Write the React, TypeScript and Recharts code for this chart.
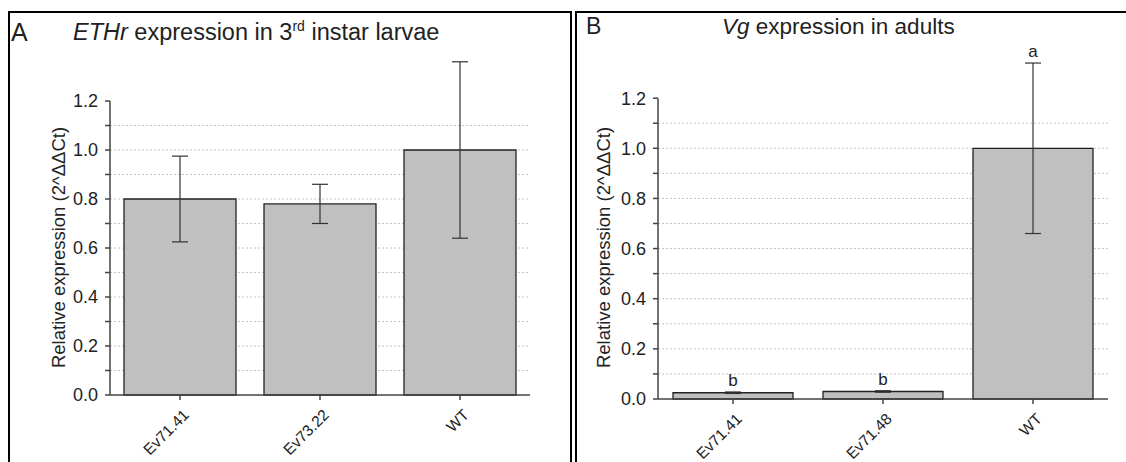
import React from "react";
import {
  ComposedChart,
  Bar,
  Line,
  XAxis,
  YAxis,
  CartesianGrid,
  ErrorBar,
  ReferenceLine,
  LabelList,
} from "recharts";

const catsA = ["Ev71.41", "Ev73.22", "WT"];
const meanA = [0.8, 0.78, 1.0];
const errA = [0.175, 0.08, 0.36];

const catsB = ["Ev71.41", "Ev71.48", "WT"];
const meanB = [0.025, 0.03, 1.0];
const errB = [0.003, 0.003, 0.34];
const lettersB = ["b", "b", "a"];

const yTicks = [0, 0.1, 0.2, 0.3, 0.4, 0.5, 0.6, 0.7, 0.8, 0.9, 1.0, 1.1, 1.2];
const gridValues = yTicks.slice(1, -1);

const FONT = "'Liberation Sans', Arial, sans-serif";
const TEXT = "#222";
const AXIS = "#444";

const dataA = catsA.map((name, i) => ({ idx: i, name, mean: meanA[i], err: errA[i] }));
const dataB = catsB.map((name, i) => ({
  idx: i,
  name,
  mean: meanB[i],
  err: errB[i],
  top: meanB[i] + errB[i],
  letter: lettersB[i],
}));

const RotTick = (props: any) => {
  const { x, y, payload, names } = props;
  const ax = x + 6;
  const ay = y + 10;
  return (
    <text
      x={ax}
      y={ay}
      transform={`rotate(-45, ${ax}, ${ay})`}
      textAnchor="end"
      dominantBaseline="central"
      fontSize={15.5}
      fontFamily={FONT}
      fill={TEXT}
    >
      {names[payload.value]}
    </text>
  );
};

const yFmt = (v: number) => (Math.round(v * 10) % 2 === 0 ? v.toFixed(1) : "");

const YLabel = (dx: number, dy: number) => (props: any) => {
  const { x, y, height } = props.viewBox;
  const cx = x + dx;
  const cy = y + height / 2 + dy;
  return (
    <text
      x={cx}
      y={cy}
      transform={`rotate(-90, ${cx}, ${cy})`}
      textAnchor="middle"
      dominantBaseline="central"
      fontSize={18.5}
      fontFamily={FONT}
      fill={TEXT}
    >
      Relative expression (2^ΔΔCt)
    </text>
  );
};

interface PanelProps {
  data: any[];
  names: string[];
  width: number;
  top: number;
  right: number;
  xHeight: number;
  yWidth: number;
  labelDx: number;
  labelDy: number;
  letters?: boolean;
}

const Panel: React.FC<PanelProps> = ({ data, names, width, top, right, xHeight, yWidth, labelDx, labelDy, letters }) => (
  <ComposedChart
    width={width}
    height={462}
    data={data}
    margin={{ top, right, bottom: 0, left: 0 }}
    barCategoryGap="10%"
  >
    <CartesianGrid
      vertical={false}
      horizontalValues={gridValues}
      strokeDasharray="2 2"
      stroke="#c4c4c4"
    />
    <XAxis
      type="number"
      dataKey="idx"
      domain={[-0.5, 2.5]}
      ticks={[0, 1, 2]}
      interval={0}
      height={xHeight}
      stroke={AXIS}
      strokeWidth={1.5}
      tickSize={5}
      tick={<RotTick names={names} />}
    />
    <YAxis
      domain={[0, 1.4]}
      ticks={yTicks}
      interval={0}
      width={yWidth}
      axisLine={false}
      tickSize={5}
      tickMargin={7}
      tickLine={{ stroke: AXIS, strokeWidth: 1.5 }}
      tickFormatter={yFmt}
      tick={{ fontSize: 18, fontFamily: FONT, fill: TEXT }}
      label={{ content: YLabel(labelDx, labelDy) }}
    />
    <ReferenceLine
      segment={[
        { x: -0.5, y: 0 },
        { x: -0.5, y: 1.2 },
      ]}
      stroke={AXIS}
      strokeWidth={1.5}
    />
    <Bar dataKey="mean" fill="#c0c0c0" stroke="#222" strokeWidth={1.3} isAnimationActive={false}>
      <ErrorBar dataKey="err" direction="y" width={8} stroke="#333" strokeWidth={1.2} />
    </Bar>
    {letters && (
      <Line dataKey="top" stroke="none" dot={false} activeDot={false} isAnimationActive={false}>
        <LabelList
          dataKey="letter"
          position="top"
          offset={6}
          style={{ fontSize: 17, fontFamily: FONT, fill: TEXT }}
        />
      </Line>
    )}
  </ComposedChart>
);

export default function App() {
  return (
    <div
      style={{
        position: "absolute",
        left: 0,
        top: 0,
        width: 1126,
        height: 462,
        overflow: "hidden",
        background: "#fff",
        fontFamily: FONT,
        color: TEXT,
      }}
    >
      <div style={{ position: "absolute", left: 0, top: 0 }}>
        <Panel
          data={dataA}
          names={catsA}
          width={560}
          top={52}
          right={30}
          xHeight={67}
          yWidth={110}
          labelDx={58}
          labelDy={24}
        />
      </div>
      <div style={{ position: "absolute", left: 560, top: 0 }}>
        <Panel
          data={dataB}
          names={catsB}
          width={566}
          top={48}
          right={18}
          xHeight={63}
          yWidth={98}
          labelDx={43}
          labelDy={24}
          letters
        />
      </div>

      <div
        style={{
          position: "absolute",
          left: 8,
          top: 11,
          width: 564,
          height: 470,
          border: "2px solid #000",
          boxSizing: "border-box",
        }}
      />
      <div
        style={{
          position: "absolute",
          left: 575,
          top: 11,
          width: 570,
          height: 470,
          border: "2px solid #000",
          boxSizing: "border-box",
        }}
      />

      <div style={{ position: "absolute", left: 11, top: 17, fontSize: 25, lineHeight: "30px" }}>A</div>
      <div style={{ position: "absolute", left: 73, top: 18, fontSize: 23.5, lineHeight: "28px", whiteSpace: "nowrap" }}>
        <i>ETHr</i> expression in 3<sup style={{ fontSize: 14, verticalAlign: "9px", lineHeight: 0 }}>rd</sup> instar larvae
      </div>
      <div style={{ position: "absolute", left: 586, top: 12, fontSize: 23, lineHeight: "28px" }}>B</div>
      <div style={{ position: "absolute", left: 722, top: 13, fontSize: 22.5, lineHeight: "28px", whiteSpace: "nowrap" }}>
        <i>Vg</i> expression in adults
      </div>
    </div>
  );
}
